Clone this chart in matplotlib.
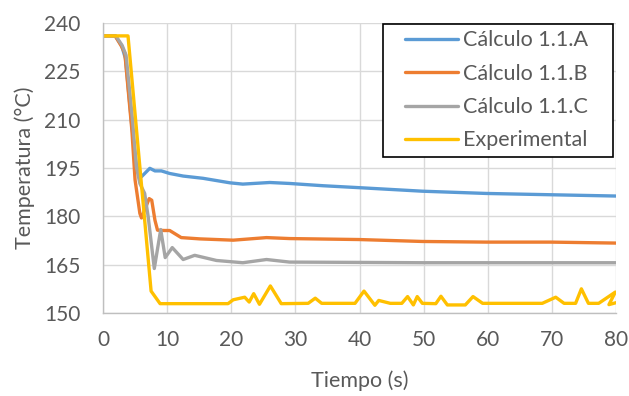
import matplotlib
matplotlib.use('Agg')
import matplotlib.pyplot as plt
from matplotlib.lines import Line2D
from matplotlib.legend_handler import HandlerLine2D

# Series (time in s, temperature in °C)
a_time = [0, 1.9, 2.9, 3.5, 4.5, 5.2, 6.0, 7.3, 8.1, 9.1, 10.4, 12.5, 15.6, 19.8,
          21.8, 26.0, 29.1, 34.3, 39.9, 49.8, 59.8, 69.8, 80]
a_temp = [236, 236, 233, 229, 208, 196, 192.3, 194.9, 194.1, 194.1, 193.3, 192.5,
          191.8, 190.4, 190.0, 190.5, 190.2, 189.5, 188.9, 187.8, 187.1, 186.7, 186.3]

b_time = [0, 1.9, 2.9, 3.4, 4.5, 5.0, 5.75, 6.0, 7.2, 7.6, 8.1, 8.5, 9.6, 10.4,
          12.2, 15.1, 20.3, 25.5, 29.1, 39.9, 49.8, 59.8, 69.8, 80]
b_temp = [236, 236, 232.7, 230.7, 206.8, 191.3, 180.9, 179.5, 185.5, 185.0, 178.8,
          175.7, 175.6, 175.6, 173.4, 173.0, 172.6, 173.4, 173.1, 172.8, 172.2,
          172.0, 172.0, 171.7]

c_time = [0, 2.0, 3.0, 3.6, 4.6, 5.2, 5.75, 6.5, 7.05, 8.0, 9.0, 9.7, 10.8, 12.5,
          14.3, 17.7, 21.8, 25.5, 29.1, 40, 50, 60, 70, 80]
c_temp = [236, 236, 233, 230, 210, 195.4, 190.2, 187.1, 179.8, 163.8, 175.9, 167.2,
          170.3, 166.6, 167.9, 166.3, 165.6, 166.6, 165.8, 165.7, 165.6, 165.6,
          165.6, 165.6]

exp_time = [0, 3.9, 7.5, 8.9, 19.5, 20.3, 22.1, 22.8, 23.5, 24.4, 26.1, 27.8, 32.0,
            33.1, 34.1, 39.3, 40.7, 42.4, 43.0, 44.8, 46.6, 47.5, 48.4, 49.0, 49.8,
            51.9, 52.7, 53.7, 56.5, 57.7, 59.2, 68.5, 70.6, 71.9, 73.7, 74.6, 75.7,
            77.3, 79.9, 78.9, 80]
exp_temp = [236, 236, 156.8, 152.9, 152.9, 154.1, 154.9, 153.4, 156.0, 152.7, 158.4,
            152.9, 153.0, 154.6, 153.0, 153.0, 156.8, 152.4, 153.9, 153.0, 153.0,
            155.1, 152.5, 155.1, 153.0, 152.9, 155.2, 152.5, 152.5, 155.1, 153.0,
            153.0, 154.9, 153.0, 153.0, 157.5, 153.0, 153.0, 156.5, 152.6, 153.2]

labels = ['Cálculo 1.1.A', 'Cálculo 1.1.B', 'Cálculo 1.1.C', 'Experimental']
colors = ['#5B9BD5', '#ED7D31', '#A5A5A5', '#FFC000']
x_ticks = [0, 10, 20, 30, 40, 50, 60, 70, 80]
y_ticks = [150, 165, 180, 195, 210, 225, 240]

plt.rcParams['font.family'] = ['Lato', 'DejaVu Sans']
text_color = '#595959'

fig = plt.figure(figsize=(6.29, 3.96), dpi=100)
ax = fig.add_axes([103 / 629, 1 - 313 / 396, 513 / 629, 290 / 396])

series = [(a_time, a_temp), (b_time, b_temp), (c_time, c_temp), (exp_time, exp_temp)]
for (t, temp), label, color in zip(series, labels, colors):
    ax.plot(t, temp, color=color, linewidth=2.4, label=label,
            solid_joinstyle='round', solid_capstyle='round')

ax.set_xlim(0, 80)
ax.set_ylim(150, 240)
ax.set_xticks(x_ticks)
ax.set_yticks(y_ticks)
ax.grid(True, color='#d9d9d9', linewidth=1)
ax.set_axisbelow(True)

for side in ['top', 'right']:
    ax.spines[side].set_visible(False)
for side in ['left', 'bottom']:
    ax.spines[side].set_color('#bfbfbf')
    ax.spines[side].set_linewidth(1)

ax.tick_params(axis='both', length=0, labelsize=15, labelcolor=text_color)
ax.tick_params(axis='y', pad=16)
ax.tick_params(axis='x', pad=12)

ax.set_xlabel('Tiempo (s)', fontsize=15.5, color=text_color, labelpad=15)
ax.set_ylabel('Temperatura (°C)', fontsize=15.5, color=text_color, labelpad=7)

# legend box spans a fixed width, like the Excel one
leg = ax.legend(loc='upper left', bbox_to_anchor=(0.5458, 0.5, 0.4483, 0.4966),
                mode='expand', fontsize=15.5,
                frameon=True, fancybox=False, handlelength=3.19, handletextpad=0.23,
                labelspacing=0.62, borderpad=0.3, borderaxespad=0,
                handler_map={Line2D: HandlerLine2D(xpad=0.72)})
leg.get_frame().set_edgecolor('black')
leg.get_frame().set_linewidth(1.2)
leg.get_frame().set_alpha(1)
for txt in leg.get_texts():
    txt.set_color(text_color)

fig.savefig('out.png', dpi=100)
